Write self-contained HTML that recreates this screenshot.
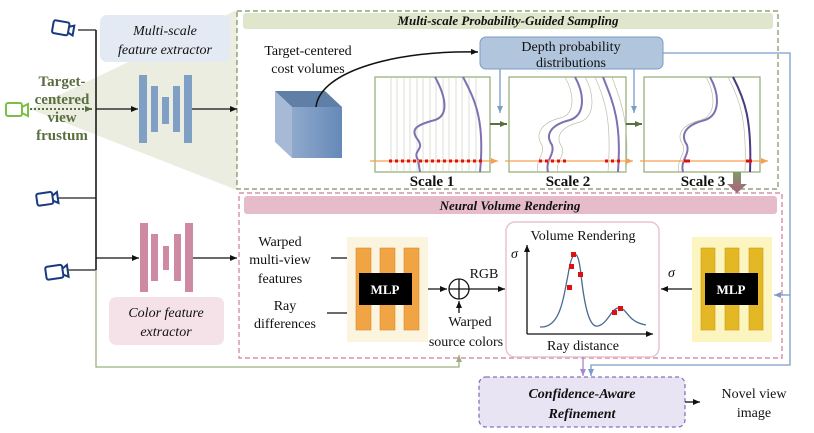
<!DOCTYPE html>
<html><head><meta charset="utf-8"><style>
body{margin:0;background:#fff}
svg{display:block}
text{font-family:"Liberation Serif",serif;fill:#111}
</style></head><body>
<svg width="814" height="433" viewBox="0 0 814 433" xmlns="http://www.w3.org/2000/svg">
<defs>
<marker id="ak" markerWidth="8" markerHeight="8" refX="7" refY="4" orient="auto" markerUnits="userSpaceOnUse"><path d="M0,1 L7,4 L0,7z" fill="#111"/></marker>
<marker id="ab" markerWidth="8" markerHeight="8" refX="7" refY="4" orient="auto" markerUnits="userSpaceOnUse"><path d="M0,1 L7,4 L0,7z" fill="#7a9cc8"/></marker>
<marker id="ag" markerWidth="8" markerHeight="8" refX="7" refY="4" orient="auto" markerUnits="userSpaceOnUse"><path d="M0,1 L7,4 L0,7z" fill="#5a6e40"/></marker>
<marker id="agl" markerWidth="8" markerHeight="8" refX="7" refY="4" orient="auto" markerUnits="userSpaceOnUse"><path d="M0,1 L7,4 L0,7z" fill="#9ab080"/></marker>
<marker id="ap" markerWidth="8" markerHeight="8" refX="7" refY="4" orient="auto" markerUnits="userSpaceOnUse"><path d="M0,1 L7,4 L0,7z" fill="#a08ad0"/></marker>
<marker id="ao" markerWidth="8" markerHeight="8" refX="7" refY="4" orient="auto" markerUnits="userSpaceOnUse"><path d="M0,1 L7,4 L0,7z" fill="#f5a050"/></marker>
<linearGradient id="cf" x1="0" x2="1"><stop offset="0" stop-color="#8fa9cc"/><stop offset="1" stop-color="#6689b8"/></linearGradient>
<linearGradient id="pa" x1="0" y1="0" x2="0" y2="1"><stop offset="0" stop-color="#7a9a6a"/><stop offset="1" stop-color="#b0607a"/></linearGradient>
</defs>

<polygon points="30,109 237,10 237,190" fill="#eaeddf"/>

<rect x="237" y="11" width="541" height="178" fill="none" stroke="#7a9060" stroke-width="1.2" stroke-dasharray="5,3"/>
<rect x="243" y="13" width="530" height="16" rx="3" fill="#dfe6cb"/>
<text x="508" y="25" font-size="13" font-weight="bold" font-style="italic" text-anchor="middle">Multi-scale Probability-Guided Sampling</text>

<rect x="239" y="193" width="543" height="165" fill="none" stroke="#d07a9a" stroke-width="1.2" stroke-dasharray="5,3"/>
<rect x="244" y="196" width="533" height="18" rx="3" fill="#e6bccb"/>
<text x="510" y="210" font-size="13" font-weight="bold" font-style="italic" text-anchor="middle">Neural Volume Rendering</text>

<line x1="96" y1="30" x2="96" y2="270" stroke="#333" stroke-width="1.8"/>
<line x1="78" y1="30" x2="96" y2="30" stroke="#222" stroke-width="1.2"/>
<line x1="58" y1="198" x2="96" y2="198" stroke="#222" stroke-width="1.2"/>
<line x1="68" y1="270" x2="96" y2="270" stroke="#222" stroke-width="1.2"/>
<g fill="none" stroke="#1a3a80" stroke-width="2">
<g transform="translate(54,20) rotate(10)"><rect x="0" y="0" width="16" height="13" rx="2"/><path d="M16,4 L21,2 L21,12 L16,10"/></g>
<g transform="translate(36,194) rotate(-8)"><rect x="0" y="0" width="16" height="12" rx="2"/><path d="M16,4 L21,1 L21,12 L16,9"/></g>
<g transform="translate(45,267) rotate(-8)"><rect x="0" y="0" width="17" height="13" rx="2"/><path d="M17,4 L22,1 L22,13 L17,10"/></g>
</g>
<g fill="none" stroke="#7bbf4a" stroke-width="2">
<rect x="6" y="103" width="16" height="13" rx="2"/><path d="M22,107 L28,104 L28,116 L22,113"/>
</g>
<line x1="30" y1="109" x2="92" y2="109" stroke="#5a6e40" stroke-width="2" stroke-dasharray="2,2" marker-end="url(#ag)"/>
<g font-size="15" font-weight="bold" text-anchor="middle">
<text x="62" y="86" style="fill:#5a6e40">Target-</text>
<text x="62" y="104" style="fill:#5a6e40">centered</text>
<text x="62" y="122" style="fill:#5a6e40">view</text>
<text x="62" y="140" style="fill:#5a6e40">frustum</text>
</g>

<rect x="100" y="15" width="130" height="47" rx="7" fill="#e4eaf3"/>
<text x="165" y="35" font-size="14" font-style="italic" text-anchor="middle">Multi-scale</text>
<text x="165" y="54" font-size="14" font-style="italic" text-anchor="middle">feature extractor</text>
<g fill="#7f9fc5">
<rect x="139" y="75" width="8" height="68"/><rect x="151" y="86" width="7" height="46"/><rect x="162" y="97" width="7" height="27"/><rect x="173" y="86" width="7" height="46"/><rect x="184" y="75" width="8" height="68"/>
</g>
<line x1="96" y1="109" x2="138" y2="109" stroke="#111" stroke-width="1.2" marker-end="url(#ak)"/>
<line x1="192" y1="109" x2="237" y2="109" stroke="#111" stroke-width="1.2" marker-end="url(#ak)"/>

<text x="308" y="55" font-size="14" text-anchor="middle">Target-centered</text>
<text x="308" y="73" font-size="14" text-anchor="middle">cost volumes</text>
<polygon points="275,91 325,91 342,107 292,107" fill="#5f7fa6"/>
<polygon points="275,91 292,107 292,158 275,142" fill="#a6bad6"/>
<rect x="292" y="107" width="50" height="51" fill="url(#cf)"/>
<path d="M316,107 C320,70 400,50 478,52" fill="none" stroke="#111" stroke-width="1.5" marker-end="url(#ak)"/>

<rect x="480" y="37" width="183" height="32" rx="6" fill="#b1c5dc" stroke="#7a9cc8"/>
<text x="571" y="51" font-size="14" text-anchor="middle">Depth probability</text>
<text x="571" y="67" font-size="14" text-anchor="middle">distributions</text>
<polyline points="663,53 790,53 790,365 591,365 591,376" fill="none" stroke="#7a9cc8" stroke-width="1.3" marker-end="url(#ab)"/>
<line x1="790" y1="295" x2="774" y2="295" stroke="#7a9cc8" stroke-width="1.3" marker-end="url(#ab)"/>
<line x1="500" y1="69" x2="500" y2="113" stroke="#7a9cc8" stroke-width="1.3" marker-end="url(#ab)"/>
<line x1="634" y1="69" x2="634" y2="113" stroke="#7a9cc8" stroke-width="1.3" marker-end="url(#ab)"/>

<g fill="#fff" stroke="#9ab080" stroke-width="1.3">
<rect x="375" y="77" width="115" height="95"/><rect x="509" y="77" width="117" height="95"/><rect x="644" y="77" width="116" height="95"/>
</g>
<g stroke="#ccd4c0" stroke-width="0.7">
<line x1="391" y1="78" x2="391" y2="171"/><line x1="397" y1="78" x2="397" y2="171"/><line x1="404" y1="78" x2="404" y2="171"/><line x1="410" y1="78" x2="410" y2="171"/><line x1="417" y1="78" x2="417" y2="171"/><line x1="423" y1="78" x2="423" y2="171"/><line x1="430" y1="78" x2="430" y2="171"/><line x1="436" y1="78" x2="436" y2="171"/><line x1="443" y1="78" x2="443" y2="171"/><line x1="449" y1="78" x2="449" y2="171"/><line x1="456" y1="78" x2="456" y2="171"/><line x1="462" y1="78" x2="462" y2="171"/><line x1="469" y1="78" x2="469" y2="171"/><line x1="476" y1="78" x2="476" y2="171"/>
</g>
<g fill="none" stroke="#8070b0" stroke-width="2">
<path d="M435,77 C445,95 450,115 435,120 C415,125 410,130 418,140 C425,150 412,150 418,160 L420,172"/>
<path d="M463,77 C475,100 485,120 480,172"/>
<path d="M575,77 C585,95 585,115 570,120 C550,125 545,135 552,145 C555,155 545,160 548,172"/>
<path d="M603,77 C612,100 622,120 618,172"/>
<path d="M710,77 C720,95 720,115 705,120 C685,125 680,135 687,145 C690,155 680,160 683,172"/>
<path d="M733,77 C745,100 752,120 750,172" stroke="#4a3a80"/>
</g>
<g fill="none" stroke="#b8c0a8" stroke-width="0.7">
<path d="M565,77 C575,95 575,115 560,118 C540,123 535,135 542,145 C545,155 535,160 538,172"/>
<path d="M585,77 C595,95 595,117 580,122 C560,127 555,137 562,147 C565,157 555,162 558,172"/>
<path d="M595,77 C605,100 612,120 608,172"/><path d="M612,77 C620,100 630,120 626,172"/>
<path d="M706,77 C716,95 716,115 701,120 C681,125 676,135 683,145 C686,155 676,160 679,172"/>
<path d="M728,77 C740,100 747,120 745,172"/>
</g>
<g stroke="#f5a050" stroke-width="1.2">
<line x1="370" y1="161" x2="498" y2="161" marker-end="url(#ao)"/><line x1="505" y1="161" x2="633" y2="161" marker-end="url(#ao)"/><line x1="640" y1="161" x2="768" y2="161" marker-end="url(#ao)"/>
</g>
<g stroke="#dd1111" stroke-width="3" stroke-dasharray="3,3">
<line x1="389" y1="161" x2="482" y2="161"/><line x1="539" y1="161" x2="566" y2="161"/><line x1="605" y1="161" x2="620" y2="161"/>
</g>
<g stroke="#dd1111" stroke-width="3"><line x1="684" y1="161" x2="690" y2="161"/><line x1="746" y1="161" x2="752" y2="161"/></g>
<line x1="490" y1="124" x2="507" y2="124" stroke="#5a6e40" stroke-width="2" marker-end="url(#ag)"/>
<line x1="626" y1="124" x2="642" y2="124" stroke="#5a6e40" stroke-width="2" marker-end="url(#ag)"/>
<g font-size="15" font-weight="bold" text-anchor="middle"><text x="432" y="186">Scale 1</text><text x="568" y="186">Scale 2</text><text x="703" y="186">Scale 3</text></g>
<polygon points="733,172 741,172 741,184 747,184 737,193 727,184 733,184" fill="url(#pa)"/>

<g fill="#cf8aa3">
<rect x="140" y="223" width="8" height="69"/><rect x="151" y="234" width="7" height="47"/><rect x="163" y="246" width="6" height="24"/><rect x="174" y="234" width="7" height="47"/><rect x="185" y="223" width="8" height="69"/>
</g>
<line x1="96" y1="258" x2="139" y2="258" stroke="#111" stroke-width="1.2" marker-end="url(#ak)"/>
<line x1="193" y1="258" x2="237" y2="258" stroke="#111" stroke-width="1.2" marker-end="url(#ak)"/>
<rect x="109" y="297" width="115" height="48" rx="7" fill="#f4e2e8"/>
<text x="166" y="317" font-size="14" font-style="italic" text-anchor="middle">Color feature</text>
<text x="166" y="336" font-size="14" font-style="italic" text-anchor="middle">extractor</text>

<polyline points="96,270 96,367 459,367 459,355" fill="none" stroke="#9ab080" stroke-width="1.3" marker-end="url(#agl)"/>

<g font-size="14" text-anchor="middle">
<text x="280" y="246">Warped</text><text x="280" y="264">multi-view</text><text x="280" y="283">features</text>
<text x="285" y="310">Ray</text><text x="285" y="328">differences</text>
<text x="470" y="326">Warped</text><text x="466" y="346">source colors</text>
<text x="484" y="278">RGB</text>
</g>
<line x1="331" y1="258" x2="355" y2="258" stroke="#111" stroke-width="1.3" marker-end="url(#ak)"/>
<line x1="327" y1="313" x2="355" y2="313" stroke="#111" stroke-width="1.3" marker-end="url(#ak)"/>

<rect x="347" y="237" width="81" height="105" fill="#fbf4df"/>
<g fill="#f1a443" stroke="#d88a30" stroke-width="0.6"><rect x="356" y="248" width="15" height="82"/><rect x="380" y="248" width="15" height="82"/><rect x="404" y="248" width="15" height="82"/></g>
<rect x="359" y="273" width="53" height="32" fill="#000"/>
<text x="385" y="294" font-size="13" font-weight="bold" text-anchor="middle" style="fill:#fff">MLP</text>
<line x1="428" y1="289" x2="447" y2="289" stroke="#111" stroke-width="1.3" marker-end="url(#ak)"/>
<circle cx="459" cy="289" r="10" fill="none" stroke="#111" stroke-width="1.3"/>
<line x1="449" y1="289" x2="469" y2="289" stroke="#111" stroke-width="1.3"/><line x1="459" y1="279" x2="459" y2="299" stroke="#111" stroke-width="1.3"/>
<line x1="459" y1="313" x2="459" y2="301" stroke="#111" stroke-width="1.3" marker-end="url(#ak)"/>
<line x1="469" y1="289" x2="505" y2="289" stroke="#111" stroke-width="1.3" marker-end="url(#ak)"/>

<rect x="506" y="222" width="153" height="135" rx="9" fill="#fff" stroke="#e8c4d0" stroke-width="1.5"/>
<text x="583" y="240" font-size="14" text-anchor="middle">Volume Rendering</text>
<text x="583" y="350" font-size="14" text-anchor="middle">Ray distance</text>
<text x="511" y="258" font-size="14" font-style="italic">σ</text>
<line x1="527" y1="334" x2="527" y2="245" stroke="#111" stroke-width="1.3" marker-end="url(#ak)"/>
<line x1="527" y1="334" x2="653" y2="334" stroke="#111" stroke-width="1.3" marker-end="url(#ak)"/>
<path d="M540,327 C560,328 563,300 568,275 C572,250 578,245 581,275 C585,310 590,328 598,326 C608,324 612,306 620,308 C628,310 628,322 646,325" fill="none" stroke="#4a6a90" stroke-width="1.3"/>
<g fill="#dd1111"><rect x="571" y="252" width="5" height="5"/><rect x="569" y="264" width="5" height="5"/><rect x="578" y="272" width="5" height="5"/><rect x="567" y="285" width="5" height="5"/><rect x="612" y="310" width="5" height="5"/><rect x="618" y="306" width="5" height="5"/></g>

<rect x="692" y="237" width="80" height="105" fill="#fdf5bf"/>
<g fill="#e4b724" stroke="#c89c18" stroke-width="0.6"><rect x="701" y="248" width="14" height="82"/><rect x="725" y="248" width="14" height="82"/><rect x="749" y="248" width="14" height="82"/></g>
<rect x="705" y="273" width="53" height="32" fill="#000"/>
<text x="731" y="294" font-size="13" font-weight="bold" text-anchor="middle" style="fill:#fff">MLP</text>
<text x="668" y="277" font-size="14" font-style="italic">σ</text>
<line x1="692" y1="289" x2="661" y2="289" stroke="#111" stroke-width="1.3" marker-end="url(#ak)"/>

<line x1="583" y1="357" x2="583" y2="376" stroke="#a08ad0" stroke-width="1.3" marker-end="url(#ap)"/>
<rect x="479" y="377" width="206" height="50" rx="7" fill="#e9e4f3" stroke="#8a6fc0" stroke-width="1.3" stroke-dasharray="4,3"/>
<text x="582" y="398" font-size="14" font-weight="bold" font-style="italic" text-anchor="middle">Confidence-Aware</text>
<text x="582" y="418" font-size="14" font-weight="bold" font-style="italic" text-anchor="middle">Refinement</text>
<line x1="685" y1="402" x2="700" y2="402" stroke="#111" stroke-width="1.3" marker-end="url(#ak)"/>
<text x="754" y="398" font-size="14" text-anchor="middle">Novel view</text>
<text x="754" y="417" font-size="14" text-anchor="middle">image</text>
</svg>
</body></html>
